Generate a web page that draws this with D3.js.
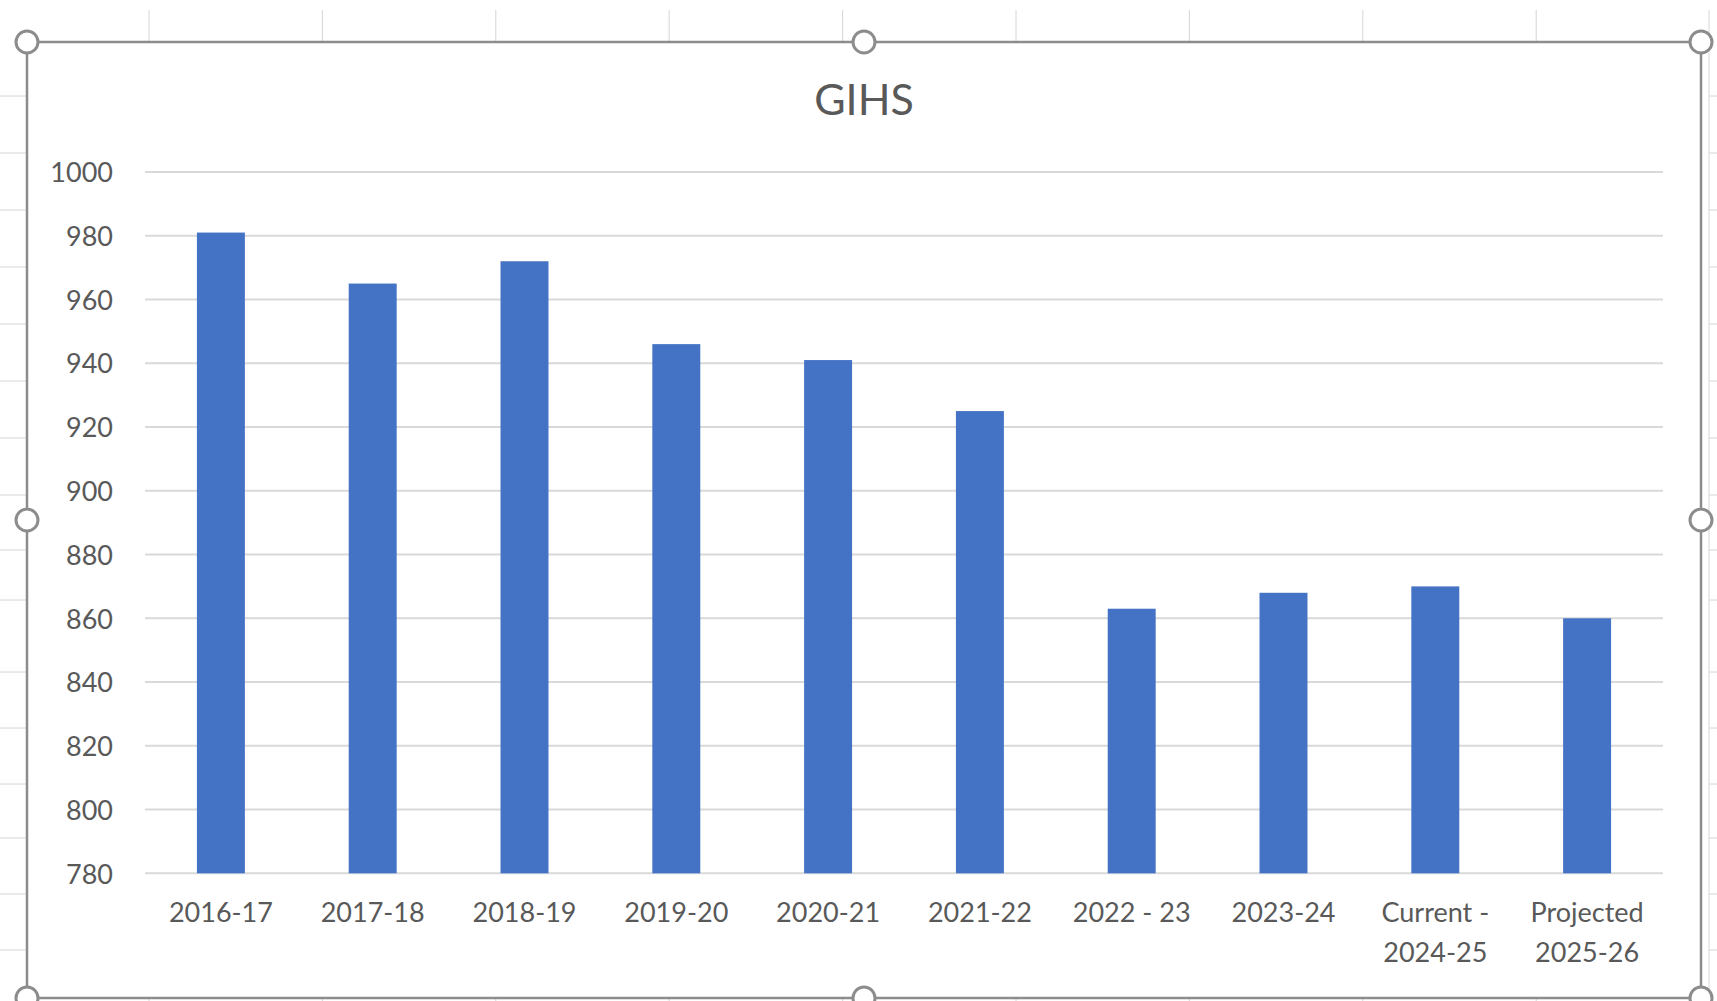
<!DOCTYPE html>
<html>
<head>
<meta charset="utf-8">
<script src="https://cdn.jsdelivr.net/npm/d3@7"></script>
<style>
  html, body { margin: 0; padding: 0; background: #ffffff; }
  svg { display: block; }
</style>
</head>
<body>
<script>
// Enrolment figures by school year
const categories = [
  "2016-17", "2017-18", "2018-19", "2019-20", "2020-21",
  "2021-22", "2022 - 23", "2023-24", "Current -\n2024-25", "Projected\n2025-26"
];
const values = [981, 965, 972, 946, 941, 925, 863, 868, 870, 860];
const yTicks = [780, 800, 820, 840, 860, 880, 900, 920, 940, 960, 980, 1000];
const chartTitle = "GIHS";

const W = 1717, H = 1001;
const font = "Lato, 'Open Sans', sans-serif";
const textColor = "#595959";

const svg = d3.select("body").append("svg")
  .attr("width", W).attr("height", H);

// ---- worksheet backdrop around the chart object ----
const sheet = svg.append("g").attr("stroke", "#d6d6d6").attr("stroke-width", 1);
const colX = d3.range(9).map(i => 149 + i * 173.4);
colX.forEach(x => {
  sheet.append("line").attr("x1", x).attr("x2", x).attr("y1", 10).attr("y2", 42);
  sheet.append("line").attr("x1", x).attr("x2", x).attr("y1", 998).attr("y2", H);
});
const rowY = [96, 153, 210, 267, 324, 381, 438, 495, 550, 600, 672, 728, 784, 838, 894, 950];
rowY.forEach(y => {
  sheet.append("line").attr("x1", 0).attr("x2", 27).attr("y1", y).attr("y2", y);
  sheet.append("line").attr("x1", 1709).attr("x2", W).attr("y1", y).attr("y2", y);
});
sheet.append("line").attr("x1", 1709).attr("x2", 1709).attr("y1", 10).attr("y2", H);

// ---- chart area ----
const frame = { left: 27, top: 42, right: 1701, bottom: 998 };
svg.append("rect")
  .attr("x", frame.left).attr("y", frame.top)
  .attr("width", frame.right - frame.left).attr("height", frame.bottom - frame.top)
  .attr("fill", "#ffffff");

const plot = { left: 145, right: 1663, top: 172, bottom: 873.3 };

const x = d3.scaleBand()
  .domain(categories)
  .range([plot.left, plot.right])
  .paddingInner(0.684)
  .paddingOuter(0.342);

const y = d3.scaleLinear()
  .domain([780, 1000])
  .range([plot.bottom, plot.top]);

// horizontal gridlines
svg.append("g")
  .selectAll("line")
  .data(yTicks)
  .join("line")
  .attr("x1", plot.left).attr("x2", plot.right)
  .attr("y1", d => y(d)).attr("y2", d => y(d))
  .attr("stroke", "#d9d9d9").attr("stroke-width", 2);

// value axis labels
const yAxis = svg.append("g")
  .attr("transform", `translate(${plot.left - 32},0)`)
  .call(d3.axisLeft(y).tickValues(yTicks).tickFormat(d3.format("d")).tickSize(0).tickPadding(0));
yAxis.select(".domain").remove();
yAxis.selectAll("text")
  .attr("font-family", font).attr("font-size", 27)
  .attr("fill", textColor).attr("dy", "0.36em");

// bars
svg.append("g")
  .selectAll("rect")
  .data(values)
  .join("rect")
  .attr("x", (d, i) => x(categories[i]))
  .attr("width", x.bandwidth())
  .attr("y", d => y(d))
  .attr("height", d => y(780) - y(d))
  .attr("fill", "#4472c4");

// category axis labels (multi-line)
const xAxis = svg.append("g")
  .attr("transform", `translate(0,${plot.bottom})`)
  .call(d3.axisBottom(x).tickSize(0).tickFormat(""));
xAxis.select(".domain").remove();
xAxis.selectAll(".tick").each(function(d) {
  const t = d3.select(this).append("text")
    .attr("font-family", font).attr("font-size", 27)
    .attr("fill", textColor).attr("text-anchor", "middle");
  d.split("\n").forEach((line, k) => {
    t.append("tspan").attr("x", 0).attr("y", 49 + k * 40).text(line);
  });
});

// title
svg.append("text")
  .attr("x", (frame.left + frame.right) / 2)
  .attr("y", 115)
  .attr("text-anchor", "middle")
  .attr("font-family", font).attr("font-size", 43)
  .attr("fill", textColor)
  .text(chartTitle);

// selection frame with sizing handles
svg.append("rect")
  .attr("x", frame.left).attr("y", frame.top)
  .attr("width", frame.right - frame.left).attr("height", frame.bottom - frame.top)
  .attr("fill", "none").attr("stroke", "#8c8c8c").attr("stroke-width", 2.5);

const midX = (frame.left + frame.right) / 2, midY = (frame.top + frame.bottom) / 2;
const handles = [
  [frame.left, frame.top], [midX, frame.top], [frame.right, frame.top],
  [frame.left, midY], [frame.right, midY],
  [frame.left, frame.bottom], [midX, frame.bottom], [frame.right, frame.bottom]
];
svg.append("g")
  .selectAll("circle")
  .data(handles)
  .join("circle")
  .attr("cx", d => d[0]).attr("cy", d => d[1]).attr("r", 11)
  .attr("fill", "#ffffff").attr("stroke", "#8c8c8c").attr("stroke-width", 3);
</script>
</body>
</html>
